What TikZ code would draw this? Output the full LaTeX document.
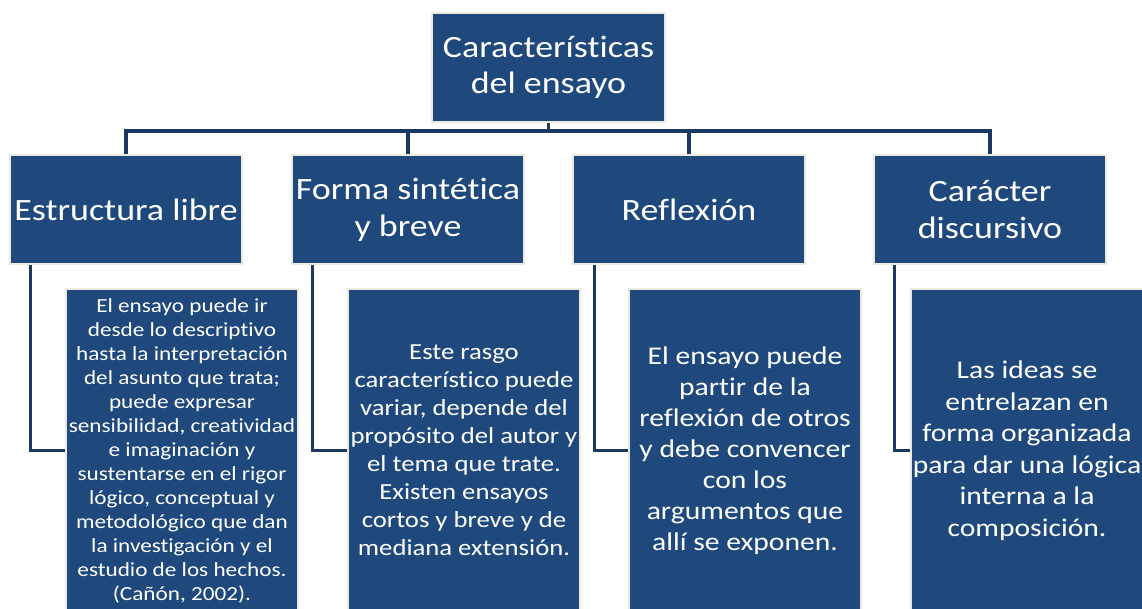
\documentclass[tikz,border=0pt]{standalone}
\usepackage{fontspec}
\setmainfont{Carlito}[FakeStretch=1.16, Ligatures=NoCommon]
\definecolor{boxblue}{RGB}{31,73,125}
\definecolor{boxedge}{RGB}{236,234,222}
\definecolor{linenavy}{RGB}{26,56,96}
\tikzset{
  box/.style={fill=boxblue, draw=boxedge, line width=1.5pt, text=white, inner sep=0pt, align=center, minimum width=232pt},
  headbox/.style={box, minimum height=109pt, font={\fontsize{31}{37}\selectfont}},
  detailbox/.style={box, minimum height=323pt},
  conn/.style={draw=linenavy, line width=3.2pt}
}
\begin{document}
\begin{tikzpicture}[x=1pt,y=-1pt]
\useasboundingbox (0,0) rectangle (1142,609);
\fill[white] (0,0) rectangle (1142,609);
\clip (0,0) rectangle (1142,609);

\node[headbox, minimum width=233pt, font={\fontsize{31}{36}\selectfont}] (top) at (548.5,67.5) {Características\\del ensayo};

\node[headbox] (l1) at (126,209.5) {Estructura libre};
\node[headbox] (l2) at (408,209.5) {Forma sintética\\y breve};
\node[headbox] (l3) at (689,209.5) {Reflexión};
\node[headbox] (l4) at (990,209.5) {Carácter\\discursivo};

\node[detailbox, font={\fontsize{20}{24}\selectfont}] (d1) at (182,450.5) {El ensayo puede ir\\desde lo descriptivo\\hasta la interpretación\\del asunto que trata;\\puede expresar\\sensibilidad, creatividad\\e imaginación y\\sustentarse en el rigor\\lógico, conceptual y\\metodológico que dan\\la investigación y el\\estudio de los hechos.\\(Cañón, 2002).};
\node[detailbox, font={\fontsize{23}{28}\selectfont}] (d2) at (464,450.5) {Este rasgo\\característico puede\\variar, depende del\\propósito del autor y\\el tema que trate.\\Existen ensayos\\cortos y breve y de\\mediana extensión.};
\node[detailbox, font={\fontsize{25.5}{31}\selectfont}] (d3) at (745,450.5) {El ensayo puede\\partir de la\\reflexión de otros\\y debe convencer\\con los\\argumentos que\\allí se exponen.};
\node[detailbox, font={\fontsize{25.5}{31.5}\selectfont}] (d4) at (1027,450.5) {Las ideas se\\entrelazan en\\forma organizada\\para dar una lógica\\interna a la\\composición.};

\coordinate (bus) at (0,131);
\draw[conn] (top.south) -- (top.south |- bus);
\draw[conn] (l1.north) |- (bus -| l4.north) -- (l4.north);
\draw[conn] (l2.north) -- (l2.north |- bus);
\draw[conn] (l3.north) -- (l3.north |- bus);

\draw[conn] ([xshift=21pt]l1.south west) |- (d1.west);
\draw[conn] ([xshift=21pt]l2.south west) |- (d2.west);
\draw[conn] ([xshift=22pt]l3.south west) |- (d3.west);
\draw[conn] ([xshift=21pt]l4.south west) |- (d4.west);
\end{tikzpicture}
\end{document}
